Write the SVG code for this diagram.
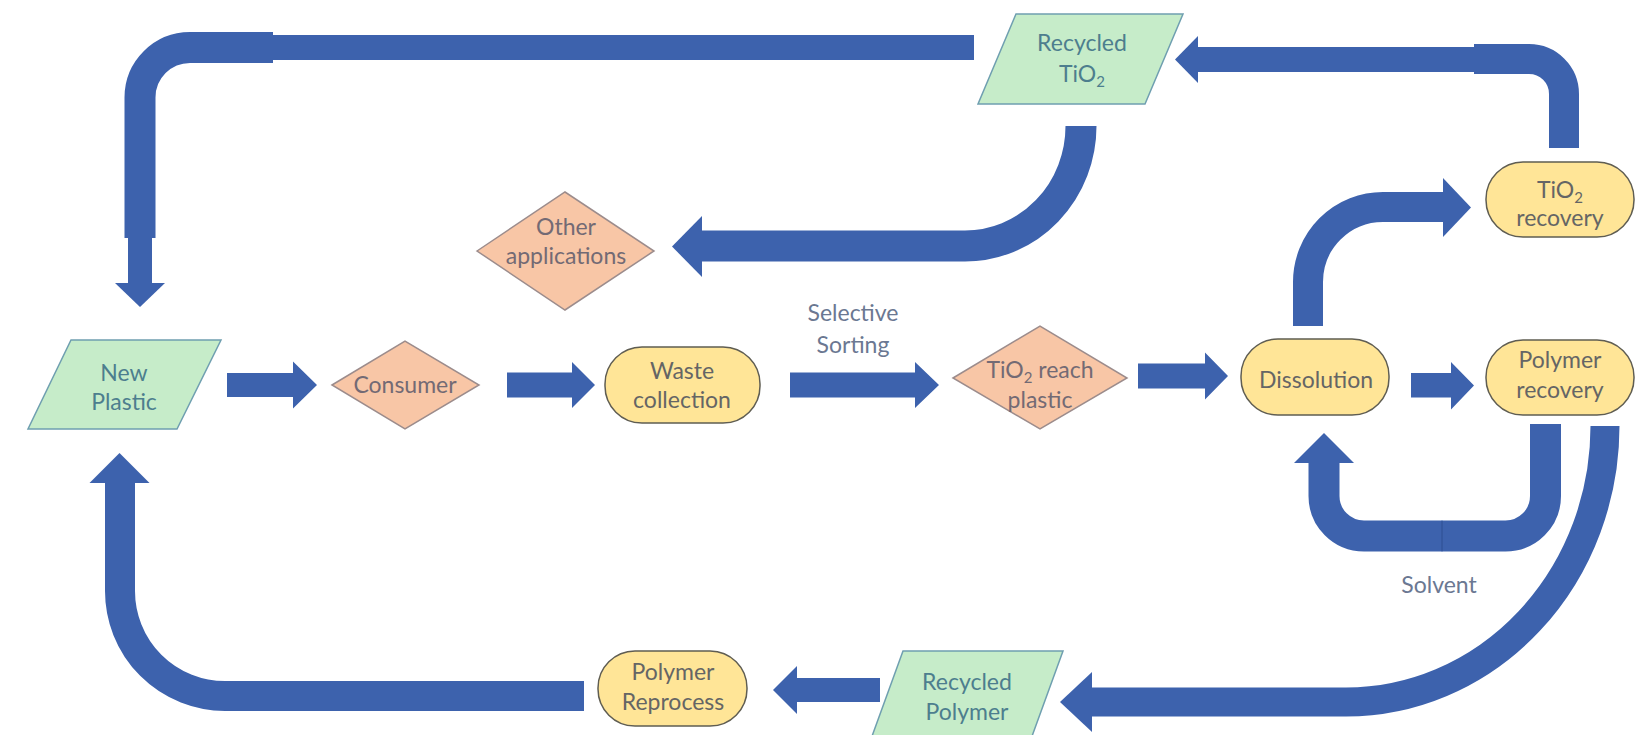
<svg xmlns="http://www.w3.org/2000/svg" width="1652" height="735" viewBox="0 0 1652 735">
  <style>
    .pipe { fill: none; stroke: #3d62ad; stroke-linecap: butt; stroke-linejoin: miter; }
    .head { fill: #3d62ad; stroke: none; }
    .io { fill: #c6ecc9; stroke: #6f9fb0; stroke-width: 1.5; }
    .dec { fill: #f8c6a6; stroke: #9c8c8c; stroke-width: 1.5; }
    .proc { fill: #ffe597; stroke: #5f5d52; stroke-width: 1.5; }
    text { font-family: Lato, "Open Sans", "Liberation Sans", sans-serif; font-size: 23px; text-anchor: middle; }
    .t-io { fill: #4d7e8e; }
    .t-dec { fill: #736a74; }
    .t-proc { fill: #656565; }
    .t-lbl { fill: #6b7892; }
    .sub { font-size: 15px; }
  </style>

  <rect width="1652" height="735" fill="#ffffff"/>

  <!-- block arrows between the steps -->
  <g id="connectors">
    <!-- Recycled TiO2 back to New Plastic (top loop) -->
    <path class="pipe" stroke-width="25" d="M974,47.5 H272"/>
    <path class="pipe" stroke-width="31" d="M273,47.5 H190 A50,50 0 0 0 140,97.5 V238"/>
    <path class="pipe" stroke-width="24" d="M140,237 V284"/>
    <polygon class="head" points="115,283 165,283 140,307"/>

    <!-- TiO2 recovery up to Recycled TiO2 -->
    <path class="pipe" stroke-width="30" d="M1564,148 V94 A35,35 0 0 0 1529,59 H1474"/>
    <path class="pipe" stroke-width="25" d="M1476,59.5 H1197"/>
    <polygon class="head" points="1198,36 1198,83 1175,59.5"/>

    <!-- Recycled TiO2 down to Other applications -->
    <path class="pipe" stroke-width="31" d="M1081,126 A116,120 0 0 1 965,246 H701"/>
    <polygon class="head" points="702,216 702,277 672,246.5"/>

    <!-- Dissolution up to TiO2 recovery -->
    <path class="pipe" stroke-width="30" d="M1308,326 V282 A75,75 0 0 1 1383,207 H1444"/>
    <polygon class="head" points="1443,178 1443,237 1471,207.5"/>

    <!-- main line, left to right -->
    <polygon class="head" points="227,373 293,373 293,361.5 317,385 293,408.5 293,397 227,397"/>
    <polygon class="head" points="507,372.5 572,372.5 572,362 595,385 572,408 572,397.5 507,397.5"/>
    <polygon class="head" points="790,372.5 915,372.5 915,362 939,385 915,408 915,397.5 790,397.5"/>
    <polygon class="head" points="1138,363.5 1205,363.5 1205,352.5 1228,376 1205,399.5 1205,388.5 1138,388.5"/>
    <polygon class="head" points="1411,373 1451,373 1451,362 1474,385.5 1451,409.5 1451,397.5 1411,397.5"/>

    <!-- solvent return loop, two pieces meeting under the loop -->
    <path class="pipe" stroke-width="31" d="M1545.5,424 V496 A40,40 0 0 1 1505.5,536 H1441.5"/>
    <path class="pipe" stroke-width="31" d="M1442.5,536 H1364 A40,40 0 0 1 1324,496 V462"/>
    <line x1="1442" y1="521" x2="1442" y2="551" stroke="#2f4f92" stroke-width="1"/>
    <polygon class="head" points="1294,463 1354,463 1324,433"/>

    <!-- Polymer recovery down to Recycled Polymer -->
    <path class="pipe" stroke-width="29" d="M1605,426 A259,276 0 0 1 1346,702 H1091"/>
    <polygon class="head" points="1092,672 1092,732 1060,702"/>

    <!-- Recycled Polymer to Polymer Reprocess -->
    <polygon class="head" points="880,678 797,678 797,666 773,690 797,714 797,702 880,702"/>

    <!-- Polymer Reprocess back to New Plastic (bottom loop) -->
    <path class="pipe" stroke-width="30" d="M584,696 H225 A105,105 0 0 1 120,591 V482"/>
    <polygon class="head" points="89.5,483 149.5,483 119.5,453"/>
  </g>

  <g id="new-plastic">
    <polygon class="io" points="71,340 221,340 177,429 28,429"/>
    <text class="t-io" x="124" y="381">New</text>
    <text class="t-io" x="124" y="410">Plastic</text>
  </g>

  <g id="consumer">
    <polygon class="dec" points="332,385 405,341 479,385 405,429"/>
    <text class="t-dec" x="405" y="393">Consumer</text>
  </g>

  <g id="waste-collection">
    <rect class="proc" x="605" y="347" width="155" height="76" rx="37" ry="37"/>
    <text class="t-proc" x="682" y="379">Waste</text>
    <text class="t-proc" x="682" y="408">collection</text>
  </g>

  <g id="selective-sorting">
    <text class="t-lbl" x="853" y="321">Selective</text>
    <text class="t-lbl" x="853" y="353">Sorting</text>
  </g>

  <g id="tio2-reach-plastic">
    <polygon class="dec" points="953,378 1040,326 1127,378 1040,429"/>
    <text class="t-dec" x="1040" y="378">TiO<tspan class="sub" dy="5">2</tspan><tspan dy="-5"> reach</tspan></text>
    <text class="t-dec" x="1040" y="408">plastic</text>
  </g>

  <g id="dissolution">
    <rect class="proc" x="1241" y="339" width="148" height="76" rx="37" ry="37"/>
    <text class="t-proc" x="1316" y="388">Dissolution</text>
  </g>

  <g id="polymer-recovery">
    <rect class="proc" x="1486" y="340" width="148" height="75" rx="37" ry="37"/>
    <text class="t-proc" x="1560" y="368">Polymer</text>
    <text class="t-proc" x="1560" y="398">recovery</text>
  </g>

  <g id="tio2-recovery">
    <rect class="proc" x="1486" y="162" width="148" height="75" rx="37" ry="37"/>
    <text class="t-proc" x="1560" y="198">TiO<tspan class="sub" dy="5">2</tspan></text>
    <text class="t-proc" x="1560" y="226">recovery</text>
  </g>

  <g id="recycled-tio2">
    <polygon class="io" points="1016,14 1183,14 1145,104 978,104"/>
    <text class="t-io" x="1082" y="51">Recycled</text>
    <text class="t-io" x="1082" y="82">TiO<tspan class="sub" dy="5">2</tspan></text>
  </g>

  <g id="other-applications">
    <polygon class="dec" points="477,251 565,192 654,251 565,310"/>
    <text class="t-dec" x="566" y="235">Other</text>
    <text class="t-dec" x="566" y="264">applications</text>
  </g>

  <g id="solvent">
    <text class="t-lbl" x="1439" y="593">Solvent</text>
  </g>

  <g id="polymer-reprocess">
    <rect class="proc" x="598" y="651" width="149" height="75" rx="37" ry="37"/>
    <text class="t-proc" x="673" y="680">Polymer</text>
    <text class="t-proc" x="673" y="710">Reprocess</text>
  </g>

  <g id="recycled-polymer">
    <polygon class="io" points="903,651 1063,651 1031,739 871,739"/>
    <text class="t-io" x="967" y="690">Recycled</text>
    <text class="t-io" x="967" y="720">Polymer</text>
  </g>
</svg>
